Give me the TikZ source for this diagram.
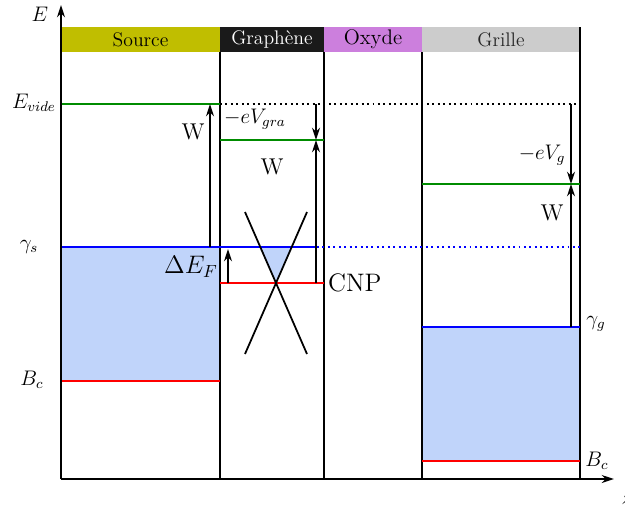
\documentclass[tikz,border=0pt]{standalone}
\usepackage{amsmath}
\usepackage{amssymb}
\usepackage{xcolor}
\usepackage{tikz}
\usetikzlibrary{arrows.meta}

\definecolor{srccol}{RGB}{192,190,0}
\definecolor{gracol}{RGB}{26,26,26}
\definecolor{oxcol}{RGB}{204,127,221}
\definecolor{grcol}{RGB}{204,204,204}
\definecolor{bandcol}{RGB}{192,212,250}
\definecolor{videcol}{RGB}{0,140,0}

\tikzset{
  level/.style={line width=1.1pt},
  wall/.style={line width=1.1pt},
  gap/.style={-{Stealth[length=7pt,width=4.5pt]}, line width=1.1pt},
  lab/.style={font=\large, inner sep=1pt},
  headtxt/.style={font=\fontsize{11.2}{13}\selectfont}
}

\begin{document}
\begin{tikzpicture}[x=0.02cm, y=-0.02cm]
  \useasboundingbox (0,0) rectangle (625,511);

  % bandes remplies
  \fill[bandcol] (61,247) rectangle (220,381);
  \fill[bandcol] (422,327) rectangle (580,461);
  \fill[bandcol] (260,247) -- (292,247) -- (276,283) -- cycle;

  % en-tetes
  \foreach \xa/\xb/\col/\tcol/\txt/\name in {
    61/220/srccol/black/{Source}/src,
    220/324/gracol/white/{Graph\`ene}/gra,
    324/422/oxcol/black/{\large Oxyde}/ox,
    422/580/grcol/black!85/{Grille}/gr
  }{
    \fill[\col] (\xa,27) rectangle (\xb,52);
    \node[headtxt, text=\tcol] (\name) at ({(\xa+\xb)/2},39.5) {\txt};
  }

  % murs
  \draw[wall] (220,52) -- (220,479);
  \draw[wall] (324,52) -- (324,479);
  \draw[wall] (422,52) -- (422,479);
  \draw[wall] (580,27) -- (580,479);

  % niveaux
  \draw[level, videcol] (61,104) -- (220,104);
  \draw[level, dotted] (220,104) -- (580,104);
  \draw[level, videcol] (220,140) -- (324,140);
  \draw[level, videcol] (422,184) -- (580,184);
  \draw[level, blue] (61,247) -- (317,247);
  \draw[level, blue, dotted] (317,247) -- (580,247);
  \draw[level, red] (220,283) -- (324,283);
  \draw[level, red] (61,381) -- (220,381);
  \draw[level, blue] (422,327) -- (580,327);
  \draw[level, red] (422,461) -- (580,461);

  % cone de Dirac
  \draw[line width=1pt] (245,212) -- (307,354);
  \draw[line width=1pt] (307,212) -- (245,354);

  % points des fleches
  \coordinate (vs) at (210,104);
  \coordinate (fs) at (210,247);
  \coordinate (vg0) at (316,104);
  \coordinate (vg) at (316,140);
  \coordinate (cnp) at (316,283);
  \coordinate (df0) at (228,283);
  \coordinate (df) at (228,249);
  \coordinate (vr0) at (571,104);
  \coordinate (vr) at (571,184);
  \coordinate (fr) at (571,327);

  \draw[gap] (fs) -- (vs);
  \draw[gap] (vg0) -- (vg);
  \draw[gap] (cnp) -- (vg);
  \draw[gap] (df0) -- (df);
  \draw[gap] (vr0) -- (vr);
  \draw[gap] (fr) -- (vr);

  % etiquettes
  \node[lab, font=\fontsize{13}{15}\selectfont] (ws) at (193,132) {W};
  \node[lab] (egra) at (255,119) {$-eV_{gra}$};
  \node[lab, font=\fontsize{13}{15}\selectfont] (wg) at (272,167) {W};
  \node[lab, font=\Large] (def) at (191,267) {$\Delta E_F$};
  \node[lab, font=\Large, anchor=west] (cnplab) at (326,283) {CNP};
  \node[lab] (eg) at (542,155) {$-eV_g$};
  \node[lab, font=\fontsize{13}{15}\selectfont] (wr) at (552,213) {W};

  \node[lab] (evide) at (34,103) {$E_{vide}$};
  \node[lab] (gs) at (29,247) {$\gamma_s$};
  \node[lab] (bcs) at (32,380) {$B_c$};
  \node[lab] (gg) at (596,324) {$\gamma_g$};
  \node[lab] (bcg) at (597,461) {$B_c$};

  % axes
  \coordinate (O) at (61,479);
  \draw[gap] (O) -- (61,5);
  \draw[gap] (O) -- (614,479);
  \node[lab] (elab) at (40,14) {$E$};
  \node[lab] (zlab) at (627,500) {$z$};
\end{tikzpicture}
\end{document}
